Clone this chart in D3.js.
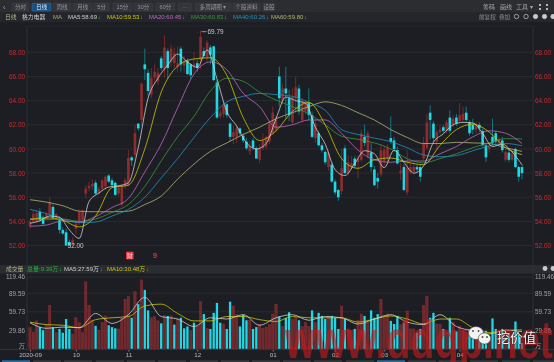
<!DOCTYPE html>
<html>
<head>
<meta charset="utf-8">
<script src="https://cdn.jsdelivr.net/npm/d3@7"></script>
<style>
  html, body { margin: 0; padding: 0; background: #1c1e23; overflow: hidden; }
  svg { display: block; font-family: "Liberation Sans", "Noto Sans CJK SC", sans-serif; }
  .blurry { filter: blur(0.35px); }
</style>
</head>
<body>
<div id="chart"></div>
<script>
// daily candles, one entry per session
var opens = [53.6,54,54,54.8,54.3,54.2,54.6,55.2,54.3,54.1,53.3,53.1,52.3,52.05,53.4,54,54.1,56.3,56.75,56.9,
  57.2,56.3,56.7,56.9,57.8,57.4,57.2,56.3,55.4,56.9,57,59.3,59.5,62.1,62.4,67,66.3,64.5,65.9,65.6,
  67.5,66.6,68.1,67.2,67.1,66.8,68.3,66.9,67.3,67,66.8,67.1,67.4,68.1,67.6,68.4,68.5,65.5,62.7,62.9,
  63.7,62.1,61,61,61.7,61.1,60.6,59.8,60.7,60.05,59.1,60.05,60.2,60.6,61.3,61.6,66,64,65,64.2,
  62.2,64.2,65,62.4,63.1,63.8,62.8,60.9,61.3,60.3,59.75,58.5,58.7,57.3,56.6,56.5,60.05,58,58.5,59.2,
  58.9,59.1,61,59.4,59.7,58.3,57.6,57.9,59,59.3,60.9,60.7,59.9,58,58.5,56.4,58.1,58.1,58.5,58.5,
  59.2,60.1,63,62.1,60.6,61.4,61.8,61.5,62.6,62,62.6,62.3,62.4,63,62.2,62,61.6,62,61.5,60.3,
  60,61,61.3,60.5,60.7,59.1,59.7,59.1,60,58.5,58.5];
var closes = [54,54.6,54.7,54.1,53.8,54.6,55.6,54.3,54.6,53.3,53,52,52,52.45,53.8,54.8,54.9,56.7,56.95,57.1,
  56.3,56.7,57.4,57.7,57.3,57,56.2,56.8,56.9,57.4,59.25,59.05,61.3,61.7,65.4,66.6,64.8,65.9,66.4,66.3,
  66.7,68.4,66.7,68.3,67.9,67.1,67,67.3,66.2,66.1,67,66.7,69.3,67.7,68.8,67.8,65.7,62.6,63,63.6,
  62.8,61,61.4,61.7,61.3,60.7,60.05,60.2,60.1,59.2,60.05,60.7,61,62.1,63,62.4,64.2,65,64.6,62.8,
  64.3,65.1,63.1,63.9,63.8,62.8,61,62.1,60.3,59.9,58.9,59.7,57.3,56.4,56,58.4,58,58.9,58.8,58.6,
  59.2,61.3,60.5,61.3,58.5,57,57.3,59.9,59.9,60.1,60.6,60,58.8,58.2,56.6,58.4,58.5,58.5,58.3,57.7,
  60.5,62.2,62.4,60.9,61.4,61.6,61.5,62.2,61.5,62.5,62.1,62.8,62.9,62.4,61.3,61.6,62,61.7,60.3,59.3,
  60.2,60.5,60.6,60.8,59.9,59.75,59.1,59.6,58.5,57.7,58];
var highs = [54.1,54.9,54.9,55.1,54.5,54.8,56,55.4,54.7,54.4,53.5,53.4,52.5,52.7,54.1,55,55,57,57.3,57.5,
  57.4,56.9,57.5,57.8,57.9,57.6,57.3,57,57.1,57.6,59.9,59.4,62,62.1,65.5,68.3,66.6,66.7,67,66.7,
  67.7,69.4,68.3,68.6,68.4,68.5,68.5,67.7,67.5,67.1,68,67.4,69.79,68.4,69,68.6,68.5,65.7,63.3,63.8,
  63.8,62.2,61.9,61.9,61.8,61.3,60.9,60.6,60.9,60.2,60.4,61.3,61.1,62.3,63.5,62.8,66.8,65.4,66.8,64.9,
  65,66,65.3,64.2,64,65,63.1,62.4,61.5,60.5,59.9,59.9,58.9,57.5,56.7,60,60.3,59.5,59.4,59.4,
  59.4,61.6,62,61.5,60.5,58.6,58,60.4,60.2,60.4,62.7,61,60.2,58.8,58.7,59.9,58.8,58.8,58.7,58.7,
  61,62.9,63.6,62.3,61.6,62,62,62.4,63.2,62.8,62.9,63.8,63.5,63.5,62.4,62.5,62.2,62.2,61.7,60.4,
  60.5,62.5,61.5,61,61,60,60,59.9,60.1,58.6,58.7];
var lows = [53.4,53.9,53.9,54,53.7,54.1,54.5,54.2,54.1,53,52.9,52,52,52,52.9,53.7,54,55.9,56.5,56.6,
  56.2,56.2,56.5,56.6,57.2,56.9,56.1,56.1,55.2,56.7,56.9,58.6,59.3,61.5,61.9,65.7,64.4,64.2,65.5,65.3,
  66.5,65.9,65.8,66.8,66.7,66.4,66.4,66.3,66.1,65.8,66.4,66.4,66.6,67.5,67.2,67,65.6,62.5,62.5,62.6,
  62.6,60.6,60.4,60.5,61.1,60.5,59.9,59.5,59.9,59.2,58.8,59.9,60,60.4,61.2,61.4,63.5,63.7,62.5,62.3,
  62,63,62.8,62.2,62.9,62.4,60.9,60.5,60.2,59.7,58.7,58.2,57.2,56.2,55.7,56.2,57.9,57.8,58.3,58.4,
  57.6,58.9,60.2,59.2,58.1,56.9,56.7,57.7,58.6,59,60.4,59.8,58.7,57.4,56.5,56.2,57.9,57.9,58,57.3,
  59,59.9,60.8,60.6,60,61.2,61.3,61.3,61.3,61.8,61.9,62.2,62.2,62.2,61.1,61.2,61.3,61.4,60.2,58.9,
  59.7,60.3,60.4,60.3,59.7,58.9,58.9,59,58.4,57.3,57.5];

// moving averages, read every 3rd session for MA5 and every 5th for the rest
var ma5 = [53.85,54.05,54.45,54.35,53.3,52.6,55.65,56.35,56.85,56.95,57.2,60.1,64.2,65.85,66.95,67.85,67.2,66.75,68.2,65.8,
  63.1,61.9,60.5,60,60.45,62.5,64.3,64,63.8,61.8,60.4,58.3,57.8,58.8,59.85,59.6,58.45,59.9,58.9,58,
  58.6,60.55,61.25,62,62.2,62.15,61.3,60.2,60.4,59.75,58.69];
var ma10 = [54.15,54.3,54.1,53.55,54.45,56.8,57,60,64.7,66.85,67.45,67.55,66.1,62.6,60.7,61.5,63.1,63.85,62,59.2,
  58.4,59.1,59.25,58.9,58.7,60.3,61.6,62.05,61.4,60.1,59.53];
var ma20 = [53.6,53.7,54.05,53.95,54.4,55.15,55.9,58.1,60.4,63.4,66.2,67.2,66.55,64.6,63.5,61.8,62,62.4,62.4,61.3,
  59.9,59.1,58.9,59,59,59.6,60.2,61,61.5,61.3,60.45];
var ma30 = [54.25,54.15,54.2,54,54.2,54.75,55.4,56.9,59,61,62.7,64.8,65.85,65.6,64.7,64.05,63.5,62.9,62,61.05,
  60.8,60.5,60,59.2,58.85,59.2,59.6,60.1,60.5,60.85,60.83];
var ma40 = [55,54.65,54.2,53.9,53.95,54.45,55,56,57.6,59.2,60.95,62.6,63.9,64.35,64.6,64.5,64.35,63.85,63.2,61.6,
  61.2,60.9,60.6,60.1,59.5,59.35,59.45,59.85,60.25,60.45,60.26];
var ma60 = [55.8,55.6,55.3,54.85,54.8,54.8,54.85,55.4,56.1,57.5,58.75,59.8,60.5,61.2,61.8,62.5,63,63.5,63.9,63.6,
  63,62.4,61.6,60.95,60.45,60.45,60.55,60.5,60.45,60.1,59.8];

// volume in 万手, and r/c for the colour each bar has in the picture
var volumes = [34,27,45,35,30,39,70,35,26,32,26,48,32,24,50,42,26,108,70,46,
  37,30,42,53,38,35,33,32,49,80,84,50,92,72,111,95,62,50,52,45,
  41,54,53,53,39,48,50,33,36,29,42,36,76,56,33,32,58,74,42,40,
  32,76,69,55,36,55,46,46,32,35,39,33,35,39,56,72,52,36,50,59,
  48,50,46,36,42,36,62,42,58,53,48,53,53,50,32,69,48,32,29,32,
  46,56,53,42,62,50,56,80,50,56,45,40,53,39,42,61,32,32,26,32,
  70,85,50,58,40,39,32,26,50,42,28,36,29,26,32,25,23,26,24,29,
  20,49,32,23,32,23,23,20,44,23,9.39];
var volDir = ("rrrccrrcrc" + "cccrrrrrrr" + "crrrcccrrr" + "rcrcrccrrr" + "crcrcrcccr" +
  "crrcrcccCr".toLowerCase() + "ccrrcccrcc" + "rrrrrrcrcc" + "rrcrrrcrcc" + "crcccrcrrc" +
  "rrcrcccrrr" + "cccrcrrrcc" + "rrccrrcrcr" + "crrrccrccc" + "rccrcrcrccc").split("");
var volMa5 = [42,33,35,34,57,41,55,83,52,48,36,50,48,55,38,50,55,46,52,50,40,48,55,43,39,55,36,29,24,30,27.59];
var volMa10 = [43,39,38,34,47,50,52,69,72,57,45,45,52,52,47,44,52,50,50,50,43,48,53,48,40,48,48,34,26,30,30.48];

var priceTicks = [52,54,56,58,60,62,64,66,68];
var volTicks = [29.86,59.73,89.59,119.46];
var monthLabels = ["2020-09","10","11","12","01","02","03","04"];
var monthStarts = [0,14,30,51,74,93,108,131];

var tabLabels = ["分时","日线","周线","月线","5分","15分","30分","60分","···","多周期图 ▾","个股资料","设股"];
var tabLeft = [12,32,53,73,94,113,134,156,178,195,233,263];
var tabRight = [29,51,71,92,109,132,153,175,192,231,260,275];
var maLabels = ["MA5:58.69","MA10:59.53","MA20:60.45","MA30:60.83","MA40:60.26","MA60:59.80"];
var maColors = ["#cfcfcf","#c8c800","#c068c4","#3c9440","#1e92c2","#b4b472"];
var maLegendX = [68,107,149,191,233,271];

var width = 554, height = 362;
var upColor = "#8e2c30", upWick = "#7d2a2d", downColor = "#1fd8e5", downWick = "#12808c";

var svg = d3.select("#chart").append("svg")
    .attr("class", "blurry")
    .attr("width", width)
    .attr("height", height);

// background blocks
svg.append("rect").attr("width", width).attr("height", height).attr("fill", "#1c1e23");
svg.append("rect").attr("width", width).attr("height", 12).attr("fill", "#2b2d31");
svg.append("rect").attr("y", 12).attr("width", width).attr("height", 10).attr("fill", "#24262b");
svg.append("rect").attr("y", 265).attr("width", width).attr("height", 8.5).attr("fill", "#2a2c30");

var x = d3.scaleLinear().domain([0, 150]).range([30, 522]);
var y = d3.scaleLinear().domain([52, 68]).range([245.6, 52.3]);
var yVol = d3.scaleLinear().domain([0, 119.46]).range([348.8, 274.7]);

// grid and price axes
var left = svg.append("g").attr("transform", "translate(27,0)")
    .call(d3.axisLeft(y).tickValues(priceTicks).tickFormat(d3.format(".2f")).tickSize(0).tickPadding(2));
var right = svg.append("g").attr("transform", "translate(533,0)")
    .call(d3.axisRight(y).tickValues(priceTicks).tickFormat(d3.format(".2f")).tickSize(0).tickPadding(2));
svg.selectAll("g .domain").remove();
svg.selectAll("g text").attr("fill", "#d02a2e").attr("font-size", 6.4).attr("font-family", "Liberation Sans");

svg.append("g").selectAll("line").data(priceTicks).enter().append("line")
    .attr("x1", 27).attr("x2", 533)
    .attr("y1", function(d) { return y(d); }).attr("y2", function(d) { return y(d); })
    .attr("stroke", "#2c2e33").attr("stroke-width", 0.8);
svg.append("g").selectAll("line").data(volTicks).enter().append("line")
    .attr("x1", 27).attr("x2", 533)
    .attr("y1", function(d) { return Math.max(yVol(d), 277); }).attr("y2", function(d) { return Math.max(yVol(d), 277); })
    .attr("stroke", "#2c2e33").attr("stroke-width", 0.8);

svg.append("line").attr("x1", 27).attr("x2", 27).attr("y1", 26).attr("y2", 349).attr("stroke", "#303237").attr("stroke-width", 0.8);
svg.append("line").attr("x1", 533).attr("x2", 533).attr("y1", 26).attr("y2", 349).attr("stroke", "#303237").attr("stroke-width", 0.8);
svg.append("line").attr("x1", 27).attr("x2", 533).attr("y1", 26).attr("y2", 26).attr("stroke", "#26282d").attr("stroke-width", 0.8);
svg.append("line").attr("x1", 0).attr("x2", width).attr("y1", 349.4).attr("y2", 349.4).attr("stroke", "#3a3c41").attr("stroke-width", 0.8);

// candles
var idx = d3.range(opens.length);
svg.append("g").selectAll("line").data(idx).enter().append("line")
    .attr("x1", function(i) { return x(i); }).attr("x2", function(i) { return x(i); })
    .attr("y1", function(i) { return y(highs[i]); }).attr("y2", function(i) { return y(lows[i]); })
    .attr("stroke", function(i) { return closes[i] >= opens[i] ? upWick : downWick; })
    .attr("stroke-width", 0.9);
svg.append("g").selectAll("rect").data(idx).enter().append("rect")
    .attr("x", function(i) { return x(i) - 1.3; })
    .attr("y", function(i) { return y(Math.max(opens[i], closes[i])); })
    .attr("width", 2.6)
    .attr("height", function(i) { return Math.max(0.8, Math.abs(y(opens[i]) - y(closes[i]))); })
    .attr("fill", function(i) { return closes[i] >= opens[i] ? upColor : downColor; });

// moving average lines
var line = d3.line().curve(d3.curveMonotoneX);
var every5 = d3.range(0, 151, 5), every3 = d3.range(0, 151, 3);
function addLine(values, at, yScale, color, w) {
  svg.append("path")
      .attr("d", line(values.map(function(v, i) { return [x(at[i]), yScale(v)]; })))
      .attr("fill", "none").attr("stroke", color).attr("stroke-width", w);
}
addLine(ma60, every5, y, maColors[5], 0.8);
addLine(ma40, every5, y, maColors[4], 0.8);
addLine(ma30, every5, y, maColors[3], 0.8);
addLine(ma20, every5, y, maColors[2], 0.8);
addLine(ma10, every5, y, maColors[1], 0.8);
addLine(ma5, every3, y, maColors[0], 0.8);

// high and low notes
var hi = d3.maxIndex(highs), lo = d3.minIndex(lows);
svg.append("line").attr("x1", x(hi) + 1).attr("x2", x(hi) + 6).attr("y1", y(highs[hi]) + 1).attr("y2", y(highs[hi]) + 1)
    .attr("stroke", "#c8c8c8").attr("stroke-width", 0.7);
svg.append("text").attr("x", x(hi) + 7).attr("y", y(highs[hi]) + 3.2).attr("fill", "#c8c8c8").attr("font-size", 6.4)
    .text(d3.format(".2f")(highs[hi]));
svg.append("text").attr("x", x(lo) + 1.6).attr("y", y(lows[lo]) + 2.2).attr("fill", "#c8c8c8").attr("font-size", 6.4)
    .text(d3.format(".2f")(lows[lo]));

// markers under the candles
svg.append("rect").attr("x", 126).attr("y", 251.7).attr("width", 7.6).attr("height", 7.6).attr("fill", "#e23a44");
svg.append("text").attr("x", 129.8).attr("y", 258).attr("text-anchor", "middle").attr("fill", "#ffd0d0").attr("font-size", 6).text("财");
svg.append("text").attr("x", 155).attr("y", 258).attr("text-anchor", "middle").attr("fill", "#d8343c").attr("font-size", 8).attr("font-weight", "bold").text("9");

// volume pane
var volAxisL = svg.append("g").attr("transform", "translate(27,0)")
    .call(d3.axisLeft(yVol).tickValues(volTicks).tickFormat(d3.format(".2f")).tickSize(0).tickPadding(2));
var volAxisR = svg.append("g").attr("transform", "translate(533,0)")
    .call(d3.axisRight(yVol).tickValues(volTicks).tickFormat(d3.format(".2f")).tickSize(0).tickPadding(2));
[volAxisL, volAxisR].forEach(function(a) {
  a.select(".domain").remove();
  a.selectAll("text").attr("fill", "#a0a2a6").attr("font-size", 6.4);
  a.selectAll(".tick").filter(function(d) { return d === 119.46; }).attr("transform", "translate(0,277)");
});
svg.append("text").attr("x", 25).attr("y", 348).attr("text-anchor", "end").attr("fill", "#a0a2a6").attr("font-size", 6.2).text("万");
svg.append("text").attr("x", 535).attr("y", 348).attr("fill", "#a0a2a6").attr("font-size", 6.2).text("万");

svg.append("g").selectAll("rect").data(idx).enter().append("rect")
    .attr("x", function(i) { return x(i) - 1.15; })
    .attr("y", function(i) { return yVol(volumes[i]); })
    .attr("width", 2.3)
    .attr("height", function(i) { return yVol(0) - yVol(volumes[i]); })
    .attr("fill", function(i) { return volDir[i] === "r" ? "#70282b" : downColor; })
    .attr("stroke", function(i) { return volDir[i] === "r" ? "#96333a" : "none"; })
    .attr("stroke-width", 0.4);
addLine(volMa10, every5, yVol, maColors[1], 0.8);
addLine(volMa5, every5, yVol, maColors[0], 0.8);

// month axis
var monthAxis = svg.append("g").attr("transform", "translate(0,350)")
    .call(d3.axisBottom(x).tickValues(monthStarts).tickFormat(function(d, i) { return monthLabels[i]; }).tickSize(1.5).tickPadding(1));
monthAxis.select(".domain").remove();
monthAxis.selectAll("text").attr("fill", "#b8babe").attr("font-size", 6.2);
monthAxis.selectAll("line").attr("stroke", "#808286");

// toolbar
svg.append("g").selectAll("rect").data(tabLabels).enter().append("rect")
    .attr("x", function(d, i) { return tabLeft[i]; }).attr("y", 3.3)
    .attr("width", function(d, i) { return tabRight[i] - tabLeft[i]; }).attr("height", 7.8)
    .attr("rx", 0.8)
    .attr("fill", function(d) { return d === "日线" ? "#1d4f7c" : "#33353a"; })
    .attr("stroke", function(d) { return d === "日线" ? "#2a7ab8" : "#45474c"; }).attr("stroke-width", 0.5);
svg.append("g").selectAll("text").data(tabLabels).enter().append("text")
    .attr("x", function(d, i) { return (tabLeft[i] + tabRight[i]) / 2; }).attr("y", 9.3)
    .attr("text-anchor", "middle").attr("font-size", 5.6)
    .attr("fill", function(d) { return d === "日线" ? "#d6e6f2" : "#94969a"; })
    .text(function(d) { return d; });
svg.append("text").attr("x", 3).attr("y", 9.6).attr("fill", "#a0a2a6").attr("font-size", 7).text("‹");

svg.append("text").attr("x", 5).attr("y", 18.8).attr("fill", "#b9b98a").attr("font-size", 5.8).text("日线");
svg.append("text").attr("x", 22).attr("y", 18.8).attr("fill", "#d2d2d2").attr("font-size", 5.8).text("格力电器");
svg.append("text").attr("x", 53).attr("y", 18.8).attr("fill", "#a9a960").attr("font-size", 6).text("MA");
var maText = svg.append("g").selectAll("text").data(maLabels).enter().append("text")
    .attr("x", function(d, i) { return maLegendX[i]; }).attr("y", 18.8).attr("font-size", 6)
    .attr("fill", function(d, i) { return maColors[i]; })
    .text(function(d) { return d; });
maText.append("tspan").attr("fill", "#1fc24a").attr("dx", 0.6).text("↓");

// right side of the toolbar
var rightTop = ["筹码","画线","工具 ▾"], rightTopX = [483,500,516];
var rightLow = ["前复权","叠加"], rightLowX = [479,499];
svg.append("g").selectAll("text").data(rightTop).enter().append("text")
    .attr("x", function(d, i) { return rightTopX[i]; }).attr("y", 9).attr("font-size", 6).attr("fill", "#a8aaae").text(function(d) { return d; });
svg.append("g").selectAll("text").data(rightLow).enter().append("text")
    .attr("x", function(d, i) { return rightLowX[i]; }).attr("y", 19).attr("font-size", 5.6).attr("fill", "#8e9094").text(function(d) { return d; });
var iconX = [516.5,526,535.5,544.5,553];
svg.append("g").selectAll("circle").data(iconX).enter().append("circle")
    .attr("cx", function(d) { return d; }).attr("cy", 16.5).attr("r", 2.2)
    .attr("fill", function(d, i) { return i > 1 ? "#c8cace" : "none"; })
    .attr("stroke", "#c8cace").attr("stroke-width", 0.7);
svg.append("circle").attr("cx", 545).attr("cy", 268.5).attr("r", 2.4).attr("fill", "#c8cace");
svg.append("circle").attr("cx", 553).attr("cy", 268.5).attr("r", 2.4).attr("fill", "#c8cace");
var cornerX = [540,547,540,547];
svg.append("g").selectAll("rect").data(cornerX).enter().append("rect")
    .attr("x", function(d) { return d - 1; }).attr("y", function(d, i) { return i < 2 ? 4 : 8; })
    .attr("width", 2).attr("height", 2).attr("fill", "#b4b6ba");

// volume legend
svg.append("text").attr("x", 6).attr("y", 271).attr("fill", "#b9b98a").attr("font-size", 5.8).text("成交量");
var volLegend = ["总量:9.39万","MA5:27.59万","MA10:30.48万"], volLegendX = [27,64,107], volLegendColor = ["#27b53c","#cfcfcf","#c8c800"];
var vt = svg.append("g").selectAll("text").data(volLegend).enter().append("text")
    .attr("x", function(d, i) { return volLegendX[i]; }).attr("y", 271).attr("font-size", 6)
    .attr("fill", function(d, i) { return volLegendColor[i]; }).text(function(d) { return d; });
vt.append("tspan").attr("fill", "#1fc24a").attr("dx", 0.6).text("↓");

// bottom tab strip
var stripX = [0,31,62,94,125,156,188,219,250,281,312,344,375,406,437,468,500,531];
svg.append("g").selectAll("rect").data(stripX).enter().append("rect")
    .attr("x", function(d) { return d + 2; }).attr("y", 360.3).attr("width", 28).attr("height", 1.7)
    .attr("fill", function(d, i) { return i === 0 || i === 12 ? "#1f6fa8" : "#36383d"; });

// watermark
svg.append("text").attr("x", 285).attr("y", 358)
    .attr("font-size", 54).attr("font-weight", "bold").attr("textLength", 268).attr("lengthAdjust", "spacingAndGlyphs")
    .attr("fill", "#c8191c").attr("fill-opacity", 0.6)
    .text("www.ddgp.net");

// wechat badge
var bubbleX = [476,484.5], bubbleY = [333,338.5], bubbleRx = [7.5,6.2], bubbleRy = [6.5,5.6];
svg.append("g").selectAll("ellipse").data(bubbleX).enter().append("ellipse")
    .attr("cx", function(d) { return d; }).attr("cy", function(d, i) { return bubbleY[i]; })
    .attr("rx", function(d, i) { return bubbleRx[i]; }).attr("ry", function(d, i) { return bubbleRy[i]; })
    .attr("fill", "#f2f2f2").attr("stroke", "#3a3c40").attr("stroke-width", 0.6);
var eyeX = [473,478.5,482.5,487], eyeY = [331,331,337,337];
svg.append("g").selectAll("circle").data(eyeX).enter().append("circle")
    .attr("cx", function(d) { return d; }).attr("cy", function(d, i) { return eyeY[i]; }).attr("r", 0.9).attr("fill", "#444");
svg.append("text").attr("x", 497).attr("y", 341.5).attr("font-size", 13).attr("fill", "#f4f4f4")
    .attr("stroke", "#2a2a2a").attr("stroke-width", 0.5).attr("paint-order", "stroke")
    .text("挖价值");
</script>
</body>
</html>
